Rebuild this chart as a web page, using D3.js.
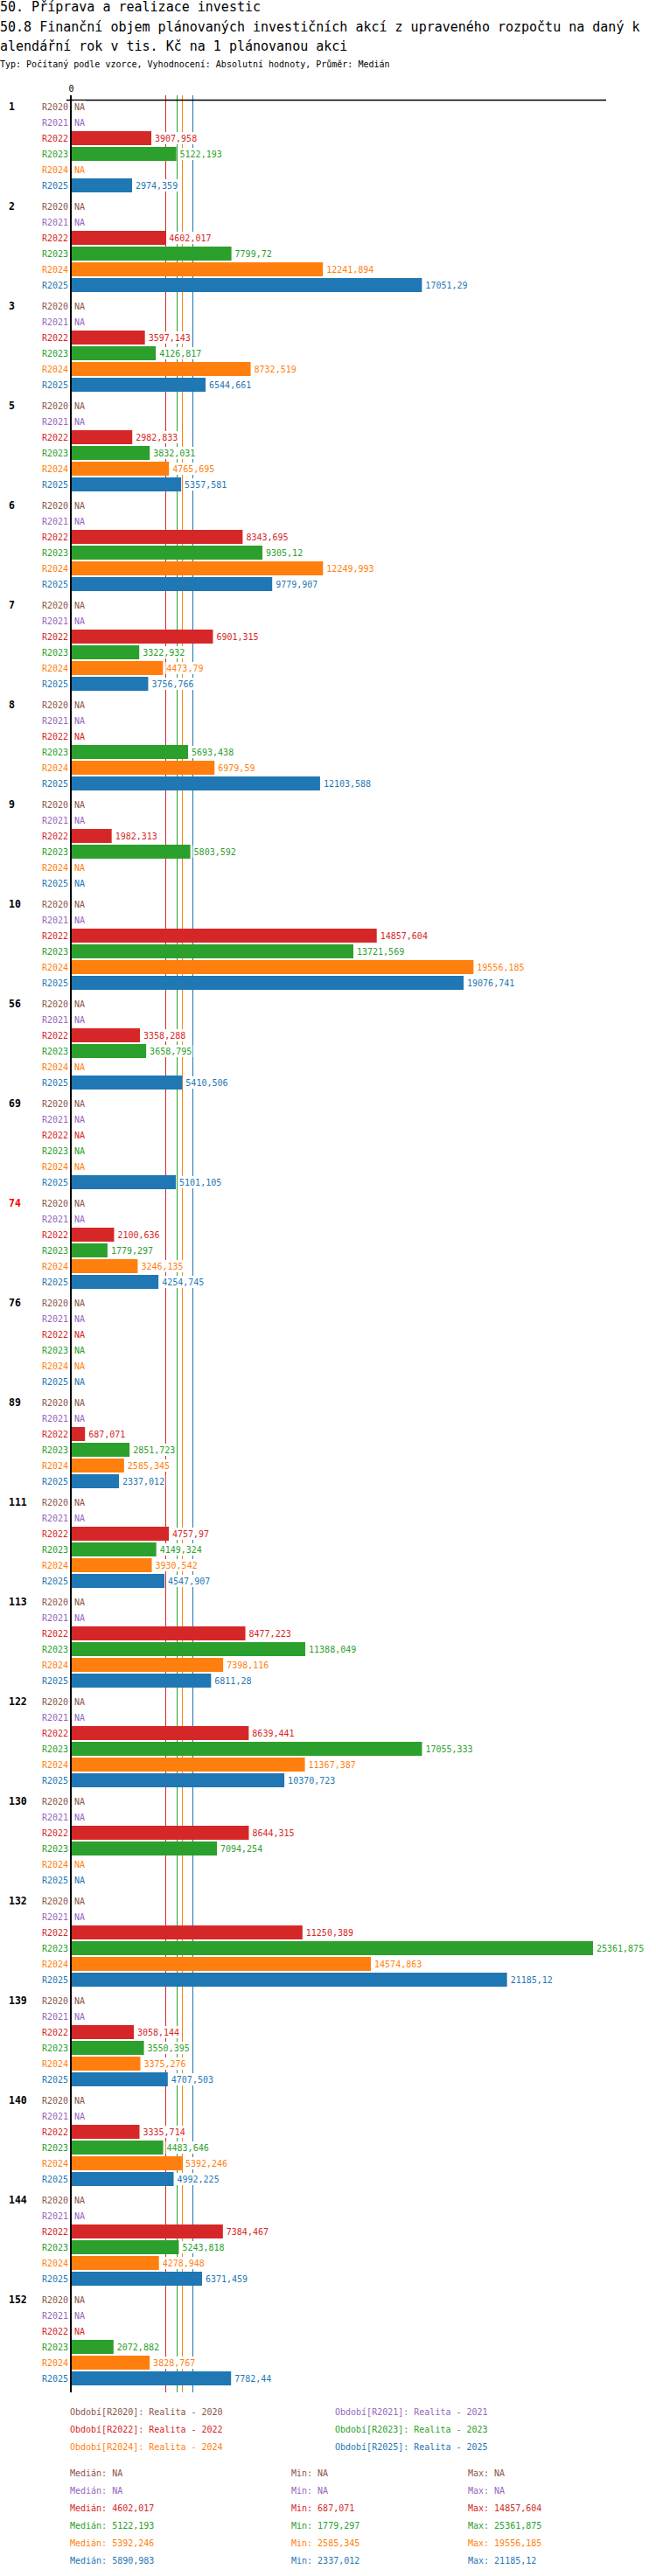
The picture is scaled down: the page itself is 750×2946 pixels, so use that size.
<!DOCTYPE html>
<html>
<head>
<meta charset="utf-8">
<script src="https://cdn.jsdelivr.net/npm/d3@7"></script>
<style>
  body { margin: 0; background: #fff; }
  svg { display: block; }
  text { font-family: "DejaVu Sans Mono", monospace; }
</style>
</head>
<body>
<svg id="chart" width="750" height="2946"></svg>
<script>
const titleLines = [
  "50. Příprava a realizace investic",
  "50.8 Finanční objem plánovaných investičních akcí z upraveného rozpočtu na daný k",
  "alendářní rok v tis. Kč na 1 plánovanou akci"
];
const subtitle = "Typ: Počítaný podle vzorce, Vyhodnocení: Absolutní hodnoty, Průměr: Medián";

const groups = ["1","2","3","5","6","7","8","9","10","56","69","74","76","89","111","113","122","130","132","139","140","144","152"];
const highlightedGroups = ["74"];
const seriesNames = ["R2020","R2021","R2022","R2023","R2024","R2025"];
const seriesLegend = ["Realita - 2020","Realita - 2021","Realita - 2022","Realita - 2023","Realita - 2024","Realita - 2025"];
const seriesColors = ["#8c564b","#9467bd","#d62728","#2ca02c","#ff7f0e","#1f77b4"];

const R2020 = [null,null,null,null,null,null,null,null,null,null,null,null,null,null,null,null,null,null,null,null,null,null,null];
const R2021 = [null,null,null,null,null,null,null,null,null,null,null,null,null,null,null,null,null,null,null,null,null,null,null];
const R2022 = [3907.958,4602.017,3597.143,2982.833,8343.695,6901.315,null,1982.313,14857.604,3358.288,null,2100.636,null,687.071,4757.97,8477.223,8639.441,8644.315,11250.389,3058.144,3335.714,7384.467,null];
const R2023 = [5122.193,7799.72,4126.817,3832.031,9305.12,3322.932,5693.438,5803.592,13721.569,3658.795,null,1779.297,null,2851.723,4149.324,11388.049,17055.333,7094.254,25361.875,3550.395,4483.646,5243.818,2072.882];
const R2024 = [null,12241.894,8732.519,4765.695,12249.993,4473.79,6979.59,null,19556.185,null,null,3246.135,null,2585.345,3930.542,7398.116,11367.387,null,14574.863,3375.276,5392.246,4278.948,3828.767];
const R2025 = [2974.359,17051.29,6544.661,5357.581,9779.907,3756.766,12103.588,null,19076.741,5410.506,5101.105,4254.745,null,2337.012,4547.907,6811.28,10370.723,null,21185.12,4707.503,4992.225,6371.459,7782.44];
const seriesValues = [R2020,R2021,R2022,R2023,R2024,R2025];

const svg = d3.select("#chart");
const fmt = v => v == null ? "NA" : String(Math.round(v * 1000) / 1000).replace(".", ",");

// Titles
svg.selectAll("text.title").data(titleLines).join("text")
  .attr("class","title")
  .attr("x", 0).attr("y", (d,i) => 13 + i*22.5)
  .attr("font-size", 15).attr("fill", "#000")
  .text(d => d);
svg.append("text").attr("x", 0).attr("y", 77)
  .attr("font-size", 10).attr("fill", "#000").text(subtitle);

// Scales
const allVals = seriesValues.flat().filter(v => v != null);
const x = d3.scaleLinear().domain([0, d3.max(allVals)]).nice().range([81, 693]);
const yGroup = d3.scaleBand().domain(groups).range([113, 2735]);
const yRow = d3.scaleBand().domain(seriesNames).range([0, 108]).paddingInner(1/9).paddingOuter(1/18);

const lineTop = 109, lineBottom = 2736;

// Median lines
const medians = seriesValues.map(arr => d3.median(arr.filter(v => v != null)));
svg.append("g").selectAll("line").data(medians.map((m,i)=>({m,i})).filter(d => d.m != null)).join("line")
  .attr("x1", d => Math.round(x(d.m)) + 0.5).attr("x2", d => Math.round(x(d.m)) + 0.5)
  .attr("y1", lineTop).attr("y2", lineBottom)
  .attr("stroke", d => seriesColors[d.i]).attr("stroke-width", 1);

// Top axis
const axisG = svg.append("g").attr("transform", "translate(0,114)");
axisG.call(d3.axisTop(x).tickValues([0]).tickSize(5).tickSizeOuter(0).tickFormat(d3.format("d")));
axisG.select(".domain").remove();
axisG.selectAll(".tick line").remove();
axisG.selectAll(".tick text").attr("font-family", "DejaVu Sans Mono").attr("font-size", 10).attr("fill", "#000").attr("dy", "-0.1em");
svg.append("line").attr("x1", 76).attr("x2", 693).attr("y1", 114.5).attr("y2", 114.5)
  .attr("stroke", "#000").attr("stroke-width", 1.5);

// Rows
const rows = [];
groups.forEach((g, gi) => {
  seriesNames.forEach((s, si) => {
    rows.push({ g, gi, s, si, v: seriesValues[si][gi], yc: yGroup(g) + yRow(s) + yRow.bandwidth()/2 });
  });
});

// Bars
svg.append("g").selectAll("rect").data(rows.filter(r => r.v != null)).join("rect")
  .attr("x", x(0)).attr("width", d => x(d.v) - x(0))
  .attr("y", d => yGroup(d.g) + yRow(d.s)).attr("height", yRow.bandwidth())
  .attr("fill", d => seriesColors[d.si]);

// Value labels with white backgrounds
const labG = svg.append("g");
rows.forEach(r => {
  const lx = (r.v == null ? x(0) : x(r.v)) + 4;
  const gg = labG.append("g");
  const bg = gg.append("rect").attr("fill", "#fff");
  const t = gg.append("text").attr("x", lx).attr("y", r.yc).attr("dy", "0.35em")
    .attr("font-size", 10).attr("fill", seriesColors[r.si]).text(fmt(r.v));
  const bb = t.node().getBBox();
  bg.attr("x", bb.x - 1).attr("y", r.yc - 7).attr("width", bb.width + 2).attr("height", 14);
});

// Row labels
svg.append("g").selectAll("text").data(rows).join("text")
  .attr("x", 78).attr("y", d => d.yc).attr("dy", "0.35em")
  .attr("text-anchor", "end").attr("font-size", 10)
  .attr("fill", d => seriesColors[d.si]).text(d => d.s);

// Group labels
svg.append("g").selectAll("text").data(groups).join("text")
  .attr("x", 10).attr("y", g => yGroup(g) + yRow(seriesNames[0]) + yRow.bandwidth()/2).attr("dy", "0.35em")
  .attr("font-size", 11.5).attr("font-weight", "bold")
  .attr("fill", g => highlightedGroups.includes(g) ? "#ff0000" : "#000").text(g => g);

// Y axis line
svg.append("line").attr("x1", 81).attr("x2", 81).attr("y1", lineTop).attr("y2", lineBottom)
  .attr("stroke", "#000").attr("stroke-width", 2);

// Legend
const legG = svg.append("g");
seriesNames.forEach((s, i) => {
  legG.append("text")
    .attr("x", i % 2 === 0 ? 80 : 383).attr("y", 2758 + Math.floor(i/2)*20).attr("dy", "0.35em")
    .attr("font-size", 10).attr("fill", seriesColors[i])
    .text("Období[" + s + "]: " + seriesLegend[i]);
});

// Stats
const statG = svg.append("g");
seriesValues.forEach((arr, i) => {
  const vals = arr.filter(v => v != null);
  const md = vals.length ? d3.median(vals) : null;
  const mn = vals.length ? d3.min(vals) : null;
  const mx = vals.length ? d3.max(vals) : null;
  const yy = 2828 + i*20;
  [["Medián: ", md, 80], ["Min: ", mn, 333], ["Max: ", mx, 535]].forEach(([lab, v, xx]) => {
    statG.append("text").attr("x", xx).attr("y", yy).attr("dy", "0.35em")
      .attr("font-size", 10).attr("fill", seriesColors[i]).text(lab + fmt(v));
  });
});
</script>
</body>
</html>
